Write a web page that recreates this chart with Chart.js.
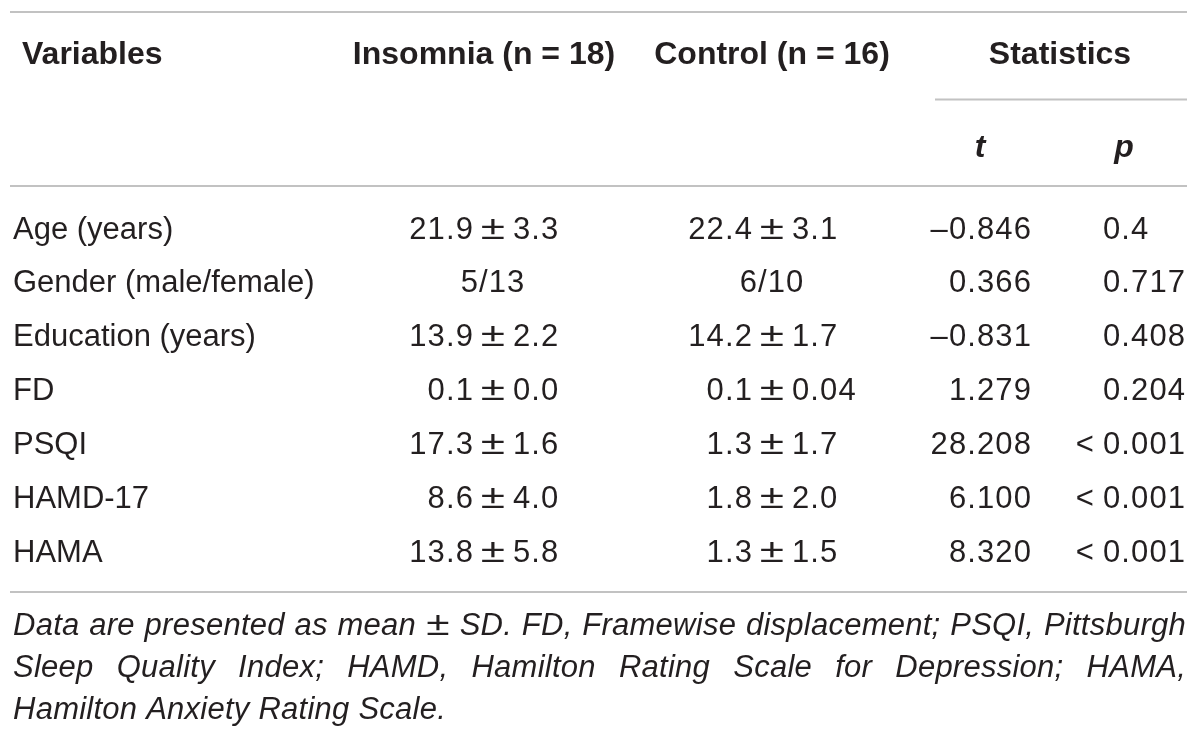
<!DOCTYPE html>
<html>
<head>
<meta charset="utf-8">
<script src="https://cdn.jsdelivr.net/npm/chart.js@4.4.1/dist/chart.umd.min.js"></script>
<style>
  html, body { margin: 0; padding: 0; background: #ffffff; }
  #wrap { width: 1200px; height: 739px; }
</style>
</head>
<body>
<div id="wrap"><canvas id="c" width="1200" height="739"></canvas></div>
<script>
// ---------- DATA ----------
const headers = ['Variables', 'Insomnia (n = 18)', 'Control (n = 16)', 'Statistics'];
const subHeaders = ['t', 'p'];
const variables = ['Age (years)', 'Gender (male/female)', 'Education (years)', 'FD', 'PSQI', 'HAMD-17', 'HAMA'];
const insomnia = ['21.9 ± 3.3', '5/13', '13.9 ± 2.2', '0.1 ± 0.0', '17.3 ± 1.6', '8.6 ± 4.0', '13.8 ± 5.8'];
const control = ['22.4 ± 3.1', '6/10', '14.2 ± 1.7', '0.1 ± 0.04', '1.3 ± 1.7', '1.8 ± 2.0', '1.3 ± 1.5'];
const tValues = ['\u20130.846', '0.366', '\u20130.831', '1.279', '28.208', '6.100', '8.320'];
const pValues = ['0.4', '0.717', '0.408', '0.204', '< 0.001', '< 0.001', '< 0.001'];
const footnoteLines = [
  'Data are presented as mean \u00b1 SD. FD, Framewise displacement; PSQI, Pittsburgh',
  'Sleep Quality Index; HAMD, Hamilton Rating Scale for Depression; HAMA,',
  'Hamilton Anxiety Rating Scale.'
];

// ---------- LAYOUT / STYLE ----------
const layout = {
  colAnchor: [13, 493, 772, 1032, 1103],   // x anchors (px) of each column
  colMode: ['left', 'pm', 'pm', 'right', 'pleft'],
  firstBaseline: 238.5, rowStep: 53.9,
  headerBaseline: 64, subBaseline: 157,
  headerX: [22, 484, 772, 1060], headerAlign: ['left', 'center', 'center', 'center'],
  subX: [980, 1124],
  rules: [{y: 12, x0: 10, x1: 1187}, {y: 99.5, x0: 935, x1: 1187}, {y: 186, x0: 10, x1: 1187}, {y: 592, x0: 10, x1: 1187}],
  footBaselines: [635, 677, 719], footX0: 13, footX1: 1186,
  textColor: '#231f20', ruleColor: '#c2c2c2',
  bodyFont: '31px "Liberation Sans", Arial, sans-serif',
  headFont: 'bold 32px "Liberation Sans", Arial, sans-serif',
  subFont: 'italic bold 32px "Liberation Sans", Arial, sans-serif',
  footFont: 'italic 31px "Liberation Sans", Arial, sans-serif',
  pmFont: '34px "Liberation Sans", Arial, sans-serif',
  numSpacing: '1.1px', footSpacing: '0.25px'
};

const columns = [variables, insomnia, control, tValues, pValues];
const H = 739;
const yMin = -layout.firstBaseline / layout.rowStep;
const yMax = (H - layout.firstBaseline) / layout.rowStep;

const datasets = columns.map((col, c) => ({
  label: c === 0 ? headers[0] : (c < 3 ? headers[c] : subHeaders[c - 3]),
  data: col.map((_, i) => ({x: layout.colAnchor[c], y: i})),
  texts: col,
  mode: layout.colMode[c],
  pointRadius: 0, pointHoverRadius: 0, showLine: false
}));

function drawWidePm(ctx, x, y, sx) {
  ctx.save();
  ctx.font = layout.pmFont;
  ctx.letterSpacing = '0px';
  ctx.translate(x, y);
  ctx.scale(sx, 1);
  ctx.textAlign = 'center';
  ctx.fillText('\u00b1', 0, 0);
  ctx.restore();
}

function drawPm(ctx, text, x, y) {
  const parts = text.split(' \u00b1 ');
  if (parts.length < 2) {
    ctx.textAlign = 'center';
    ctx.fillText(text, x, y);
    return;
  }
  ctx.textAlign = 'right';
  ctx.fillText(parts[0], x - 19, y);
  ctx.textAlign = 'left';
  ctx.fillText(parts[1], x + 20, y);
  drawWidePm(ctx, x, y, 1.3);
}

const tablePlugin = {
  id: 'tablePlugin',
  beforeDatasetsDraw(chart) {
    const ctx = chart.ctx;
    ctx.save();
    ctx.strokeStyle = layout.ruleColor;
    ctx.lineWidth = 2;
    layout.rules.forEach(r => {
      ctx.beginPath();
      ctx.moveTo(r.x0, r.y);
      ctx.lineTo(r.x1, r.y);
      ctx.stroke();
    });
    ctx.restore();
  },
  afterDatasetsDraw(chart) {
    const ctx = chart.ctx;
    ctx.save();
    ctx.fillStyle = layout.textColor;
    ctx.textBaseline = 'alphabetic';
    // headers
    ctx.font = layout.headFont;
    headers.forEach((h, i) => {
      ctx.textAlign = layout.headerAlign[i];
      ctx.fillText(h, layout.headerX[i], layout.headerBaseline);
    });
    ctx.font = layout.subFont;
    ctx.textAlign = 'center';
    subHeaders.forEach((s, i) => ctx.fillText(s, layout.subX[i], layout.subBaseline));
    // body cells through scales
    ctx.font = layout.bodyFont;
    chart.data.datasets.forEach((ds, di) => {
      const meta = chart.getDatasetMeta(di);
      meta.data.forEach((pt, i) => {
        const txt = ds.texts[i];
        const x = pt.x, y = pt.y;
        ctx.letterSpacing = ds.mode === 'left' ? '0px' : layout.numSpacing;
        if (ds.mode === 'left') {
          ctx.textAlign = 'left';
          ctx.fillText(txt, x, y);
        } else if (ds.mode === 'pm') {
          drawPm(ctx, txt, x, y);
        } else if (ds.mode === 'right') {
          ctx.textAlign = 'right';
          ctx.fillText(txt, x, y);
        } else {
          if (txt.startsWith('< ')) {
            ctx.textAlign = 'right';
            ctx.fillText('<', x - 8, y);
            ctx.textAlign = 'left';
            ctx.fillText(txt.slice(2), x, y);
          } else {
            ctx.textAlign = 'left';
            ctx.fillText(txt, x, y);
          }
        }
      });
    });
    // footnote (justified except last line)
    ctx.font = layout.footFont;
    ctx.letterSpacing = layout.footSpacing;
    ctx.textAlign = 'left';
    footnoteLines.forEach((line, li) => {
      const yb = layout.footBaselines[li];
      const words = line.split(' ');
      const widths = words.map(w => w === '\u00b1' ? 24 : ctx.measureText(w).width);
      const total = widths.reduce((a, b) => a + b, 0);
      const last = li === footnoteLines.length - 1;
      const gap = last ? ctx.measureText(' ').width
                       : (layout.footX1 - layout.footX0 - total) / (words.length - 1);
      let x = layout.footX0;
      words.forEach((w, wi) => {
        if (w === '\u00b1') {
          drawWidePm(ctx, x + widths[wi] / 2, yb, 1.25);
        } else {
          ctx.fillText(w, x, yb);
        }
        x += widths[wi] + gap;
      });
    });
    ctx.restore();
  }
};

new Chart(document.getElementById('c'), {
  type: 'scatter',
  data: { datasets },
  options: {
    responsive: false,
    animation: false,
    events: [],
    layout: { padding: 0 },
    plugins: { legend: { display: false }, tooltip: { enabled: false } },
    scales: {
      x: { type: 'linear', min: 0, max: 1200, display: false },
      y: { type: 'linear', min: yMin, max: yMax, reverse: true, display: false }
    }
  },
  plugins: [tablePlugin]
});
</script>
</body>
</html>
